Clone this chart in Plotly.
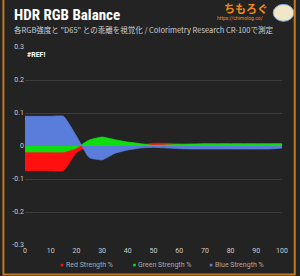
import plotly.graph_objects as go

x_pct = [0, 5, 10, 15, 20, 25, 30, 35, 40, 45, 50, 55, 60, 65, 70, 75, 80, 85, 90, 95, 100]
red = [-0.075, -0.075, -0.075, -0.075, -0.02, 0.0, 0.0, 0.0, 0.0, 0.003, 0.008, 0.008, 0.006, 0.004, 0.002, 0.001, 0.001, 0.001, 0.001, 0.001, 0.001]
green = [-0.018, -0.018, -0.018, -0.018, -0.006, 0.018, 0.027, 0.019, 0.012, 0.007, 0.002, 0.003, 0.005, 0.006, 0.007, 0.007, 0.007, 0.007, 0.007, 0.007, 0.007]
blue = [0.09, 0.09, 0.09, 0.09, 0.03, -0.035, -0.042, -0.022, -0.012, -0.006, -0.004, -0.006, -0.008, -0.009, -0.009, -0.009, -0.009, -0.009, -0.009, -0.009, -0.006]
series_names = ["Red Strength %", "Green Strength %", "Blue Strength %"]
colors = ["#ff1010", "#10dd10", "#5a7ddc"]
y_ticks = [-0.3, -0.2, -0.1, 0, 0.1, 0.2, 0.3]
x_ticks = [0, 10, 20, 30, 40, 50, 60, 70, 80, 90, 100]
legend_x = [0.145, 0.427, 0.725]

fig = go.Figure()
for name, vals, col in zip(series_names, [red, green, blue], colors):
    fig.add_trace(go.Scatter(x=x_pct, y=vals, mode="lines", fill="tozeroy", name=name,
                             line=dict(color=col, width=0.8, shape="spline", smoothing=0.4),
                             fillcolor=col, showlegend=False, hoverinfo="skip"))

bg = "#232323"
fig.update_layout(
    width=300, height=276, paper_bgcolor=bg, plot_bgcolor=bg,
    margin=dict(l=23, r=15, t=47, b=31),
    showlegend=False,
    font=dict(family="Liberation Sans Narrow, Roboto, sans-serif", color="#bbbbbb", size=7),
    xaxis=dict(range=[0, 100], tickvals=x_ticks, showgrid=False, zeroline=False,
               showline=False, ticks="", tickfont=dict(size=7, color="#cccccc")),
    yaxis=dict(range=[-0.3, 0.3], tickvals=y_ticks, ticktext=["-0.3", "-0.2", "-0.1", "0", "0.1", "0.2", "0.3"],
               showgrid=True, gridcolor="#3c3c3c", gridwidth=1, zeroline=True, zerolinecolor="#3c3c3c",
               showline=False, ticks="", tickfont=dict(size=7, color="#cccccc"), layer="below traces"),
)

# legend (as annotations with small colour squares)
for name, col, lx in zip(series_names, colors, legend_x):
    fig.add_shape(type="rect", xref="paper", yref="paper", x0=lx - 0.006, x1=lx + 0.004,
                  y0=-0.108, y1=-0.095, line=dict(width=0), fillcolor=col)
    fig.add_annotation(text=name, xref="paper", yref="paper", x=lx + 0.006, y=-0.101,
                       xanchor="left", yanchor="middle", showarrow=False,
                       font=dict(size=7, color="#aaaaaa"))

fig.add_annotation(text="<b>HDR RGB Balance</b>", xref="paper", yref="paper", x=-0.05, y=1.104,
                   xanchor="left", yanchor="bottom", showarrow=False,
                   font=dict(size=15, color="#ffffff", family="Liberation Sans Narrow, Roboto Condensed, sans-serif"))
fig.add_annotation(text='各RGB強度と "D65" との乖離を視覚化 / Colorimetry Research CR-100で測定',
                   xref="paper", yref="paper", x=-0.05, y=1.086, xanchor="left", yanchor="middle",
                   showarrow=False,
                   font=dict(size=7.5, color="#cfcfcf", family="Noto Sans CJK JP, sans-serif"))
fig.add_annotation(text="<b>#REF!</b>", xref="paper", yref="paper", x=0.0, y=0.96,
                   xanchor="left", yanchor="middle", showarrow=False,
                   font=dict(size=7, color="#ffffff"))
fig.add_annotation(text="<b>ちもろぐ</b>", xref="paper", yref="paper", x=0.952, y=1.196,
                   xanchor="right", yanchor="middle", showarrow=False,
                   font=dict(size=11, color="#f08a1c", family="Noto Sans CJK JP, sans-serif"))
fig.add_annotation(text="https://chimolog.co/", xref="paper", yref="paper", x=0.932, y=1.146,
                   xanchor="right", yanchor="middle", showarrow=False,
                   font=dict(size=5, color="#f08a1c"))
fig.add_shape(type="circle", xref="paper", yref="paper", x0=0.966, x1=1.046, y0=1.13, y1=1.215,
              line=dict(color="#8fb4e0", width=1), fillcolor="#f2e6c8")
fig.add_shape(type="path", xref="paper", yref="paper",
              path="M -0.084 1.24 L -0.084 -0.149 L 1.0496 -0.149 L 1.0496 1.24",
              line=dict(color="#c07a20", width=2))

fig.write_html("out.html")
